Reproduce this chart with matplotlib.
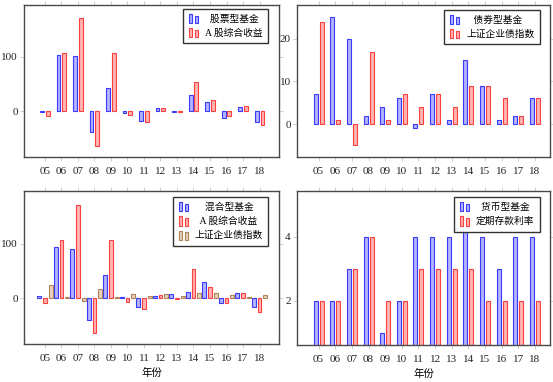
import matplotlib
matplotlib.use("Agg")
import matplotlib.pyplot as plt
import numpy as np
from matplotlib.patches import Rectangle
from matplotlib.legend_handler import HandlerBase

plt.rcParams['font.family'] = ['Liberation Serif', 'Noto Sans CJK SC', 'DejaVu Sans']

years = ['05', '06', '07', '08', '09', '10', '11', '12', '13', '14', '15', '16', '17', '18']

stock_fund = [-2, 103, 101, -38, 43, -4, -18, 5, -1, 29, 17, -12, 8, -20]
a_share = [-10, 108, 172, -64, 108, -7, -21, 5, -2, 53, 20, -10, 10, -25]
bond_fund = [7, 25, 20, 2, 4, 6, -1, 7, 1, 15, 9, 1, 2, 6]
bond_index = [24, 1, -5, 17, 1, 7, 4, 7, 4, 9, 9, 6, 2, 6]
mixed_fund = [3, 95, 91, -40, 43, 1, -17, 4, 7, 12, 30, -9, 9, -17]
money_fund = [2, 2, 3, 4, 1, 2, 4, 4, 4, 5, 4, 3, 4, 4]
deposit_rate = [2, 2, 3, 4, 2, 2, 3, 3, 3, 3, 2, 2, 2, 2]

BLUE = ('#b3b3ff', '#3a3aff')
RED = ('#ffb3b3', '#ff4040')
BROWN = ('#e6d2be', '#b08458')


class TwoBars(HandlerBase):
    # pgfplots style ybar legend image: two little bars
    def create_artists(self, legend, orig, xd, yd, w, h, fs, trans):
        fc = orig.get_facecolor()
        ec = orig.get_edgecolor()
        bw = w * 0.28
        arts = []
        for x0, hh in [(0.05, 1.0), (0.6, 0.8)]:
            r = Rectangle((-xd + x0 * w, -yd - 0.1 * h), bw, hh * h * 1.15,
                          facecolor=fc, edgecolor=ec, lw=0.8, transform=trans)
            arts.append(r)
        return arts


def style(ax, xlim, ylim, yticks):
    ax.set_xlim(*xlim)
    ax.set_ylim(*ylim)
    ax.set_xticks(np.arange(len(years)))
    ax.set_xticklabels(years)
    ax.set_yticks(yticks)
    for s in ax.spines.values():
        s.set_color('#4a4a4a')
        s.set_linewidth(1.0)
    ax.tick_params(axis='both', direction='out', top=True, right=True,
                   length=3, width=0.6, color='#c8c8c8', labelsize=8, labelcolor='#222222')
    ax.tick_params(axis='x', pad=4)
    ax.tick_params(axis='y', pad=1.5)


def bars(ax, series, offsets, width, labels, colors):
    x = np.arange(len(years))
    handles = []
    for vals, off, lab, (fc, ec) in zip(series, offsets, labels, colors):
        b = ax.bar(x + off, vals, width, facecolor=fc, edgecolor=ec, linewidth=0.8, label=lab)
        handles.append(b.patches[0])
    return handles


def legend(ax, handles, labels, anchor):
    lg = ax.legend(handles, labels, loc='upper right', bbox_to_anchor=anchor,
                   borderaxespad=0, frameon=True, fancybox=False, framealpha=1,
                   edgecolor='#333333', fontsize=7, handlelength=1.1, handleheight=0.9,
                   handletextpad=0.6, labelspacing=0.5, borderpad=0.55,
                   handler_map={Rectangle: TwoBars()})
    lg.get_frame().set_linewidth(1.0)
    return lg


fig = plt.figure(figsize=(5.53, 3.82), dpi=100)

ax1 = fig.add_axes([0.0434, 0.589, 0.4617, 0.398])
ax2 = fig.add_axes([0.537, 0.589, 0.4575, 0.398])
ax3 = fig.add_axes([0.0434, 0.0995, 0.4617, 0.4005])
ax4 = fig.add_axes([0.537, 0.0969, 0.4575, 0.403])

# 股票型基金
labs = ['  股票型基金', 'A 股综合收益']
h = bars(ax1, [stock_fund, a_share], [-0.18, 0.18], 0.24, labs, [BLUE, RED])
style(ax1, (-1.27, 14.2), (-85, 196), [0, 100])
legend(ax1, h, labs, (0.957, 0.974))

# 债券型基金
labs = ['   债券型基金', '上证企业债指数']
h = bars(ax2, [bond_fund, bond_index], [-0.18, 0.18], 0.24, labs, [BLUE, RED])
style(ax2, (-1.3, 13.9), (-7.7, 27.9), [0, 10, 20])
legend(ax2, h, labs, (0.96, 0.967))

# 混合型基金
labs = ['    混合型基金', '  A 股综合收益', '上证企业债指数']
h = bars(ax3, [mixed_fund, a_share, bond_index], [-0.35, 0, 0.35], 0.22, labs, [BLUE, RED, BROWN])
style(ax3, (-1.27, 14.2), (-85, 198), [0, 100])
legend(ax3, h, labs, (0.957, 0.96))
ax3.set_xlabel('年份', fontsize=7.5, labelpad=4)

# 货币型基金
labs = ['  货币型基金', '定期存款利率']
h = bars(ax4, [money_fund, deposit_rate], [-0.18, 0.18], 0.24, labs, [BLUE, RED])
style(ax4, (-1.3, 13.9), (0.62, 5.43), [2, 4])
legend(ax4, h, labs, (0.96, 0.96))
ax4.set_xlabel('年份', fontsize=7.5, labelpad=4)

fig.savefig('out.png', dpi=100)
